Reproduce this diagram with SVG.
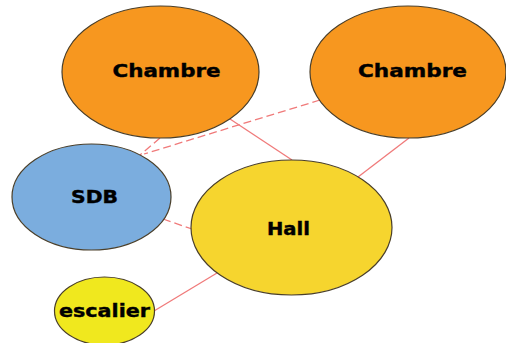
<svg xmlns="http://www.w3.org/2000/svg" width="506" height="343" viewBox="0 0 506 343">
<style>
.node ellipse{stroke:#4a3f2a;stroke-width:1.2}
.lbl{font-family:"DejaVu Sans",Verdana,sans-serif;font-weight:bold;font-size:18px;fill:#000;stroke:#000;stroke-width:0.4;text-anchor:middle}
.edge{stroke:#f07a7a;stroke-width:1.3;fill:none}
.dash{stroke-dasharray:8,4}
</style>
<rect width="506" height="343" fill="#fff"/>
<g id="connectors">
<line class="edge dash" x1="160" y1="138" x2="140" y2="155"/>
<line class="edge dash" x1="320" y1="100" x2="144" y2="154"/>
<line class="edge" x1="230" y1="119" x2="292" y2="160"/>
<line class="edge" x1="409" y1="138" x2="358" y2="177"/>
<line class="edge dash" x1="163" y1="219" x2="192" y2="229"/>
<line class="edge" x1="154" y1="311" x2="217" y2="273"/>
</g>
<g id="chambre1" class="node">
<ellipse cx="160.5" cy="72" rx="98.5" ry="66" fill="#f7971f"/>
<text class="lbl" x="166.5" y="77" textLength="108" lengthAdjust="spacingAndGlyphs">Chambre</text>
</g>
<g id="chambre2" class="node">
<ellipse cx="408" cy="72" rx="98" ry="66" fill="#f7971f"/>
<text class="lbl" x="412.5" y="77" textLength="109" lengthAdjust="spacingAndGlyphs">Chambre</text>
</g>
<g id="sdb" class="node">
<ellipse cx="91.5" cy="197" rx="79.5" ry="53" fill="#7badde"/>
<text class="lbl" x="94.5" y="203" textLength="47" lengthAdjust="spacingAndGlyphs">SDB</text>
</g>
<g id="hall" class="node">
<ellipse cx="291.5" cy="227.5" rx="100.5" ry="67.5" fill="#f6d52e"/>
<text class="lbl" x="288.5" y="235" textLength="43" lengthAdjust="spacingAndGlyphs">Hall</text>
</g>
<g id="escalier" class="node">
<ellipse cx="104.5" cy="311" rx="50" ry="34" fill="#f0e81e"/>
<text class="lbl" x="104.5" y="317" textLength="91" lengthAdjust="spacingAndGlyphs">escalier</text>
</g>
</svg>
